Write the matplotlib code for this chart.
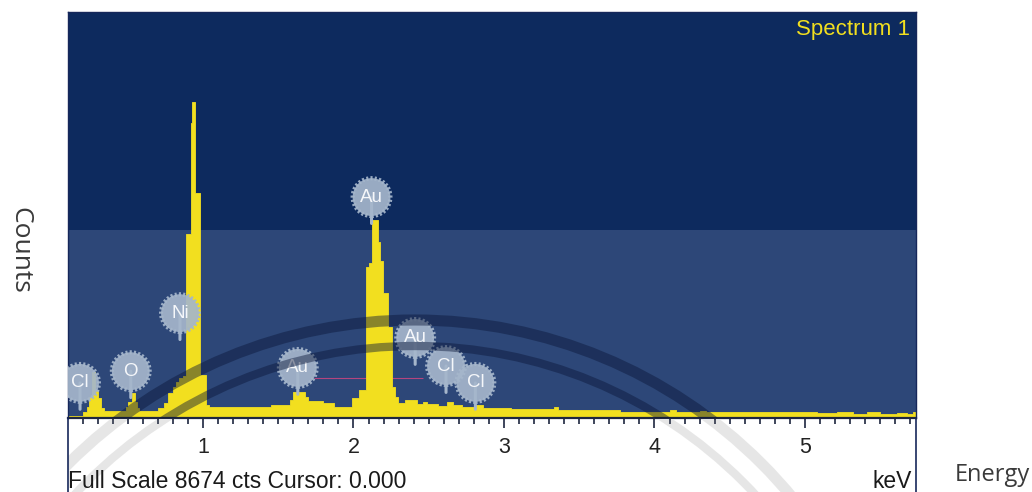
import matplotlib.pyplot as plt
from matplotlib.patches import Circle, Rectangle

# EDS spectrum (channel edges in keV, counts per channel)
edges = [0.103, 0.20, 0.23, 0.245, 0.26, 0.285, 0.30, 0.32, 0.34, 0.49,
         0.505, 0.525, 0.545, 0.56, 0.575, 0.70, 0.74, 0.77, 0.80, 0.82,
         0.84, 0.865, 0.89, 0.92, 0.93, 0.95, 0.98, 1.02, 1.04, 1.20,
         1.45, 1.578, 1.60, 1.68, 1.70, 1.73, 1.80, 1.87, 1.99, 2.04,
         2.085, 2.10, 2.12, 2.165, 2.176, 2.198, 2.231, 2.254, 2.276, 2.298,
         2.34, 2.42, 2.46, 2.49, 2.56, 2.62, 2.66, 2.72, 2.80, 2.86,
         3.05, 3.33, 3.36, 3.77, 4.10, 4.14, 4.30, 4.34, 5.08, 5.21,
         5.32, 5.41, 5.50, 5.61, 5.68, 5.72, 5.738]
counts = [50, 130, 235, 450, 980, 600, 427, 210, 155,
          240, 350, 534, 350, 210, 160, 210, 320, 534, 670,
          775, 855, 900, 3930, 6300, 6760, 4810, 920, 280, 240,
          235, 270, 380, 560, 450, 370, 370, 320, 245, 420,
          600, 3230, 3310, 4230, 3750, 3360, 2660, 1950, 670, 455,
          314, 380, 300, 350, 290, 260, 340, 270, 240, 280,
          220, 200, 240, 170, 135, 170, 135, 160, 120, 100,
          120, 80, 120, 80, 100, 80, 120]

# element markers
label_names = ['Cl', 'O', 'Ni', 'Au', 'Au', 'Au', 'Cl', 'Cl']
label_kev = [0.183, 0.52, 0.847, 1.63, 2.12, 2.41, 2.615, 2.81]
label_cts = [750, 1000, 2240, 1070, 4720, 1710, 1110, 750]

full_scale = 8674
x_min, x_max = 0.103, 5.738

yellow = '#f2df1f'
navy = '#0d2a5e'
band = '#2d4778'
badge = '#a5b6cb'

fig = plt.figure(figsize=(10.32, 4.92), dpi=100)
ax = fig.add_axes([68 / 1032, 74 / 492, 848 / 1032, 406 / 492])
ax.set_facecolor(navy)
ax.axhspan(0, 4016, color=band, zorder=0, lw=0)
ax.hlines(854, 1.74, 2.46, color='#b4457e', lw=0.8, zorder=1)
ax.fill_between(edges, counts + [counts[-1]], step='post', color=yellow,
                lw=0.6, edgecolor=yellow, zorder=2)
ax.set_xlim(x_min, x_max)
ax.set_ylim(0, full_scale)

ax.set_xticks([1, 2, 3, 4, 5])
ax.set_xticks([i / 10 for i in range(2, 58)], minor=True)
ax.set_yticks([])
ax.tick_params(axis='x', which='major', direction='out', length=7, width=1.2,
               color='#1e2640', pad=7, labelsize=15.5, labelcolor='#222222')
ax.tick_params(axis='x', which='minor', direction='out', length=4.5, width=1.2,
               color='#1e2640')
for lab in ax.get_xticklabels():
    lab.set_family('Liberation Sans')
for s in ['left', 'right', 'top']:
    ax.spines[s].set_color('#16275a')
    ax.spines[s].set_linewidth(1.0)
ax.spines['bottom'].set_color('#1e2640')
ax.spines['bottom'].set_linewidth(1.6)

# element badges
ax.scatter(label_kev, label_cts, s=740, color=badge, alpha=0.92,
           edgecolors=badge, linewidths=3, linestyles=(0, (0.5, 0.5)),
           zorder=4)
for name, e, c in zip(label_names, label_kev, label_cts):
    ax.annotate('', xy=(e, c), xytext=(0, -19), textcoords='offset points',
                arrowprops=dict(arrowstyle='-', color=badge, lw=2.2,
                                shrinkA=0, shrinkB=0), zorder=3)
    ax.text(e, c, name, ha='center', va='center', color='#f5f7fa',
            fontsize=13.5, family='Liberation Sans', zorder=5)

ax.text(0.993, 0.956, 'Spectrum 1', transform=ax.transAxes, ha='right',
        va='center', color=yellow, fontsize=16, family='Liberation Sans')

# overlay in pixel coordinates for the lower strip and the scanned seal
ov = fig.add_axes([0, 0, 1, 1], zorder=10)
ov.set_xlim(0, 1032)
ov.set_ylim(492, 0)
ov.axis('off')
ov.patch.set_alpha(0)
ov.plot([68, 68], [418, 492], color='#16275a', lw=1.2)
ov.plot([916, 916], [418, 492], color='#16275a', lw=1.2)
ov.text(68, 481, 'Full Scale %d cts Cursor: 0.000' % full_scale, ha='left',
        va='center', fontsize=16.5, family='Liberation Sans', color='#1a1a1a')
ov.text(912, 481, 'keV', ha='right', va='center', fontsize=16.5,
        family='Liberation Sans', color='#1a1a1a')
ov.text(992, 475, 'Energy', ha='center', va='center', fontsize=17,
        family='Open Sans', color='#3a3a3a')
ov.text(20, 250, 'Counts', ha='center', va='center', rotation=270,
        fontsize=19, family='Open Sans', color='#3a3a3a')

blue_clip = Rectangle((68, 12), 848, 406, transform=ov.transData)
white_clip = Rectangle((68, 420), 848, 72, transform=ov.transData)
for r, w in [(490, 8), (464, 6)]:
    c1 = Circle((415, 810), r, fill=False, lw=w, color='#0a1638', alpha=0.45)
    ov.add_patch(c1)
    c1.set_clip_path(blue_clip)
    c2 = Circle((415, 810), r, fill=False, lw=w, color='#777777', alpha=0.18)
    ov.add_patch(c2)
    c2.set_clip_path(white_clip)

fig.savefig('out.png', dpi=100)
